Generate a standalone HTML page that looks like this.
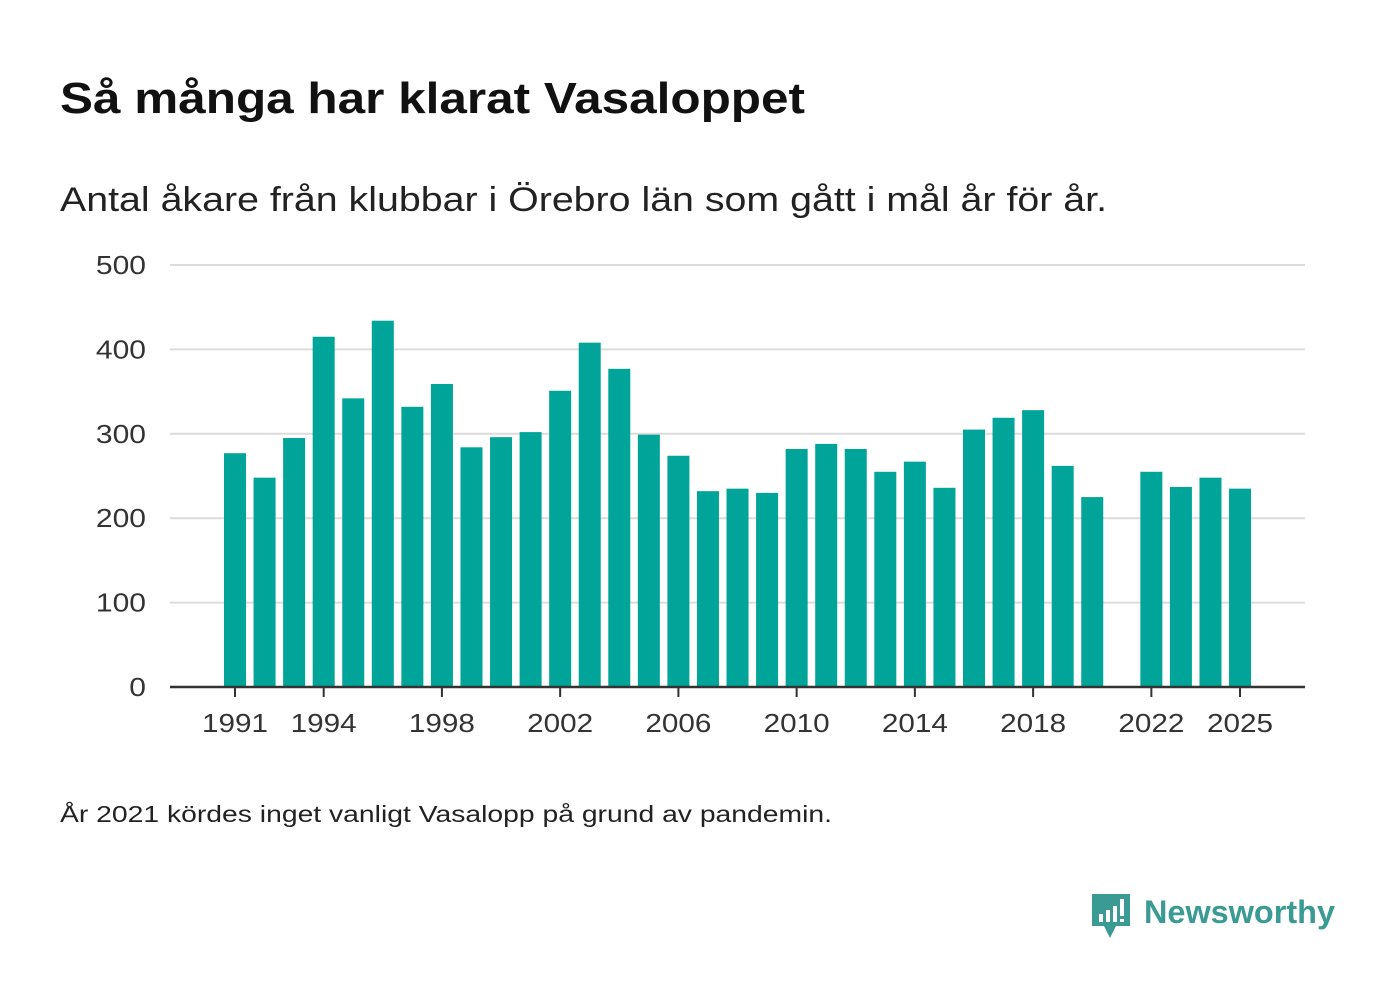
<!DOCTYPE html>
<html><head><meta charset="utf-8"><style>
body{margin:0;width:1400px;height:1000px;background:#fff;font-family:"Liberation Sans",sans-serif;color:#1a1a1a;overflow:hidden}
svg text{font-family:"Liberation Sans",sans-serif}
</style></head><body>
<svg width="1400" height="1000" xmlns="http://www.w3.org/2000/svg" id="chart">
<text x="60" y="113" font-size="44" font-weight="bold" fill="#111" textLength="745" lengthAdjust="spacingAndGlyphs">Så många har klarat Vasaloppet</text>
<text x="60" y="211" font-size="34" fill="#222" textLength="1047" lengthAdjust="spacingAndGlyphs">Antal åkare från klubbar i Örebro län som gått i mål år för år.</text>
<g id="grid"></g><g id="bars"></g><g id="xaxis"></g>
<text x="60" y="822" font-size="23" fill="#222" textLength="772" lengthAdjust="spacingAndGlyphs">År 2021 kördes inget vanligt Vasalopp på grund av pandemin.</text>
<g>
<path d="M1092 894 h38 v32 h-14 l-6 12 l-6 -12 h-12 z" fill="#3a9a94"/>
<rect x="1099" y="914" width="4" height="8" fill="#fff"/><rect x="1106" y="910" width="4" height="12" fill="#fff"/><rect x="1113" y="906" width="4" height="16" fill="#fff"/><rect x="1120" y="899" width="4" height="17" fill="#fff"/><rect x="1120" y="919" width="4" height="3" fill="#fff"/>
<text x="1144" y="923" font-size="32" font-weight="bold" fill="#3a9a94" textLength="191" lengthAdjust="spacingAndGlyphs">Newsworthy</text>
</g>
</svg>
<script>
const years=[1991,1992,1993,1994,1995,1996,1997,1998,1999,2000,2001,2002,2003,2004,2005,2006,2007,2008,2009,2010,2011,2012,2013,2014,2015,2016,2017,2018,2019,2020,2021,2022,2023,2024,2025];
const values=[277,248,295,415,342,434,332,359,284,296,302,351,408,377,299,274,232,235,230,282,288,282,255,267,236,305,319,328,262,225,null,255,237,248,235];
const yTicks=[0,100,200,300,400,500];
const xTicks=[1991,1994,1998,2002,2006,2010,2014,2018,2022,2025];
const NS="http://www.w3.org/2000/svg";
const x=y=>235+(y-1991)*29.56;
const yS=v=>687-v*0.844;
function mk(t,a,p){const e=document.createElementNS(NS,t);for(const k in a)e.setAttribute(k,a[k]);p.appendChild(e);return e;}
const grid=document.getElementById('grid'),bars=document.getElementById('bars'),xa=document.getElementById('xaxis');
yTicks.forEach(v=>{
 if(v>0){const l=mk('line',{x1:170,x2:1305,y1:yS(v),y2:yS(v),stroke:'#dcdcdc','stroke-width':2},grid);
 
 }
 const s=String(v);
 const t=mk('text',{x:146,y:yS(v)+9,'font-size':26,'text-anchor':'end',fill:'#333',textLength:s.length*16.7,lengthAdjust:'spacingAndGlyphs'},grid);t.textContent=s;
 
 
});
years.forEach((yr,i)=>{const v=values[i];if(v==null)return;
 const r=mk('rect',{x:x(yr)-11,y:yS(v),width:22,height:687-yS(v),fill:'#00a499'},bars);
 
 
});
const ax=mk('line',{x1:170,x2:1305,y1:687,y2:687,stroke:'#333','stroke-width':2.5},xa);


xTicks.forEach(yr=>{
 mk('line',{x1:x(yr),x2:x(yr),y1:687,y2:697,stroke:'#333','stroke-width':2},xa);
 const t=mk('text',{x:x(yr),y:732,'font-size':26,'text-anchor':'middle',fill:'#333',textLength:66,lengthAdjust:'spacingAndGlyphs'},xa);t.textContent=yr;
 
 
});
</script>
</body></html>
